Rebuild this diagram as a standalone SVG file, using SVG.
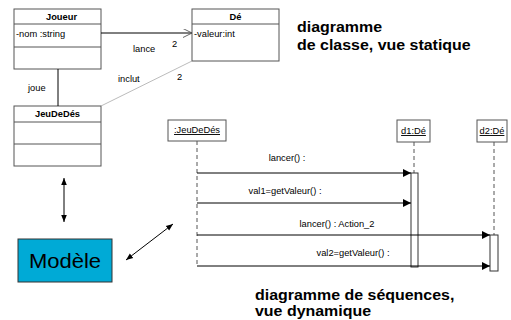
<svg xmlns="http://www.w3.org/2000/svg" width="511" height="320" viewBox="0 0 511 320">
<defs>
<style>
text{font-family:"Liberation Sans",Arial,sans-serif;fill:#000}
.s{font-size:9.3px}
.b{font-size:9.3px;font-weight:bold}
.t{font-size:14.5px;font-weight:bold}
.box{fill:#fff;stroke:#555;stroke-width:1}
.ln{stroke:#000;stroke-width:1;fill:none}
.life{stroke:#555;stroke-width:1;stroke-dasharray:4,3;fill:none}
.act{fill:#fff;stroke:#333;stroke-width:1}
</style>
<marker id="fa" viewBox="0 0 10 10" refX="10" refY="5" markerWidth="10" markerHeight="8" markerUnits="userSpaceOnUse" orient="auto"><path d="M0,0 L10,5 L0,10 z" fill="#000"/></marker>
<marker id="sa" viewBox="0 0 10 10" refX="10" refY="5" markerWidth="7" markerHeight="7" markerUnits="userSpaceOnUse" orient="auto-start-reverse"><path d="M0,1 L10,5 L0,9 z" fill="#000"/></marker>
<marker id="oa" viewBox="0 0 10 10" refX="10" refY="5" markerWidth="10" markerHeight="9" markerUnits="userSpaceOnUse" orient="auto"><path d="M0,0 L10,5 L0,10" fill="none" stroke="#555"/></marker>
</defs>
<g id="joueur">
<rect class="box" x="14" y="9" width="87" height="60"/>
<line class="box" x1="14" y1="24" x2="101" y2="24"/>
<line class="box" x1="14" y1="47" x2="101" y2="47"/>
<text class="b" x="61.5" y="20" text-anchor="middle">Joueur</text>
<text class="s" x="16" y="37">-nom :string</text>
</g>
<g id="de">
<rect class="box" x="192" y="9" width="87" height="52"/>
<line class="box" x1="192" y1="24" x2="279" y2="24"/>
<text class="b" x="235.5" y="20" text-anchor="middle">Dé</text>
<text class="s" x="194" y="37">-valeur:int</text>
</g>
<g id="jeudedes">
<rect class="box" x="14" y="106" width="87" height="60"/>
<line class="box" x1="14" y1="122" x2="101" y2="122"/>
<line class="box" x1="14" y1="144" x2="101" y2="144"/>
<text class="b" x="57.5" y="117" text-anchor="middle">JeuDeDés</text>
</g>
<g id="modele">
<rect x="18" y="239" width="94" height="43" fill="#00aad6" stroke="#333" stroke-width="1"/>
<text transform="translate(65,268) scale(1.1,1)" text-anchor="middle" style="font-size:20px">Modèle</text>
</g>
<g id="seq-jeu">
<rect class="box" x="168" y="120" width="58" height="21"/>
<text class="s" x="197" y="133" text-anchor="middle" text-decoration="underline">:JeuDeDés</text>
</g>
<g id="seq-d1">
<rect class="box" x="397" y="120" width="33" height="22"/>
<text class="s" x="413.5" y="134" text-anchor="middle" text-decoration="underline">d1:Dé</text>
</g>
<g id="seq-d2">
<rect class="box" x="477" y="120" width="30" height="22"/>
<text class="s" x="492" y="134" text-anchor="middle" text-decoration="underline">d2:Dé</text>
</g>
<g id="titles">
<text class="t" transform="translate(297,32) scale(1.1,1)">diagramme</text>
<text class="t" transform="translate(297,50) scale(1.1,1)">de classe, vue statique</text>
<text class="t" transform="translate(255,300) scale(1.1,1)">diagramme de séquences,</text>
<text class="t" transform="translate(255,316) scale(1.1,1)">vue dynamique</text>
</g>
<g id="connectors">
<line class="ln" x1="101" y1="33" x2="192" y2="33" marker-end="url(#oa)"/>
<text class="s" x="133" y="52">lance</text>
<text class="s" x="172" y="47">2</text>
<text class="s" x="118" y="82">inclut</text>
<text class="s" x="177" y="80">2</text>
<line x1="101" y1="106" x2="192" y2="61" stroke="#aaa" stroke-width="0.8"/>
<line class="ln" x1="58" y1="69" x2="58" y2="106"/>
<text class="s" x="28" y="91">joue</text>
<line class="ln" x1="64" y1="178" x2="64" y2="222" marker-start="url(#sa)" marker-end="url(#sa)"/>
<line class="ln" x1="126" y1="260" x2="173" y2="224" marker-start="url(#sa)" marker-end="url(#sa)"/>
<line class="life" x1="197" y1="141" x2="197" y2="266"/>
<line class="life" x1="414" y1="142" x2="414" y2="173"/>
<line class="life" x1="494" y1="142" x2="494" y2="235"/>
<rect class="act" x="411" y="173" width="7" height="94"/>
<rect class="act" x="490" y="235" width="8" height="36"/>
<line class="ln" x1="197" y1="173" x2="411" y2="173" marker-end="url(#fa)"/>
<text class="s" x="287" y="161" text-anchor="middle">lancer() :</text>
<line class="ln" x1="197" y1="203" x2="411" y2="203" marker-end="url(#fa)"/>
<text class="s" x="285" y="194" text-anchor="middle">val1=getValeur() :</text>
<line class="ln" x1="197" y1="235" x2="490" y2="235" marker-end="url(#fa)"/>
<text class="s" x="337" y="227" text-anchor="middle">lancer() : Action_2</text>
<line class="ln" x1="197" y1="266" x2="490" y2="266" marker-end="url(#fa)"/>
<text class="s" x="353" y="256" text-anchor="middle">val2=getValeur() :</text>
</g>
</svg>
